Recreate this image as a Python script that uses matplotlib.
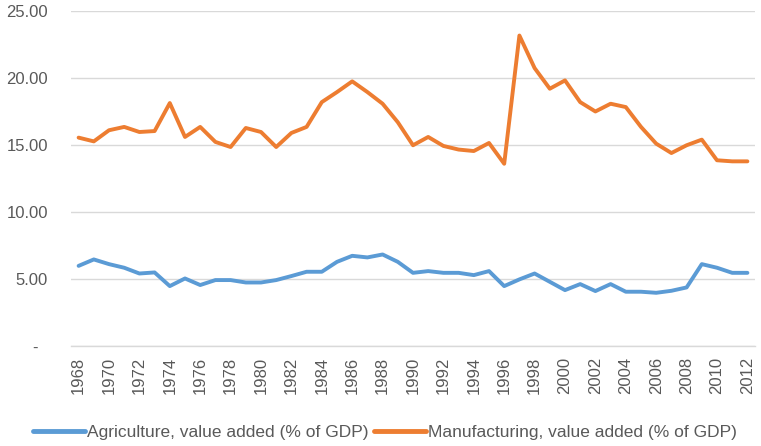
import matplotlib
matplotlib.use("Agg")
import matplotlib.pyplot as plt

plt.rcParams['font.family'] = ['Liberation Sans', 'DejaVu Sans']

years = list(range(1968, 2013))
agriculture = [5.98, 6.46, 6.11, 5.84, 5.41, 5.49, 4.47, 5.04, 4.55, 4.92,
               4.92, 4.74, 4.74, 4.92, 5.22, 5.54, 5.54, 6.28, 6.73, 6.61,
               6.83, 6.28, 5.46, 5.59, 5.46, 5.46, 5.29, 5.59, 4.47, 4.97,
               5.41, 4.79, 4.17, 4.62, 4.10, 4.62, 4.05, 4.05, 3.97, 4.12,
               4.37, 6.11, 5.84, 5.46, 5.46]
manufacturing = [15.55, 15.27, 16.10, 16.35, 15.97, 16.04, 18.13, 15.60, 16.35, 15.23,
                 14.85, 16.27, 15.97, 14.85, 15.90, 16.35, 18.20, 18.95, 19.75, 18.95,
                 18.08, 16.70, 14.98, 15.60, 14.93, 14.66, 14.55, 15.15, 13.60, 23.17,
                 20.74, 19.20, 19.82, 18.20, 17.50, 18.08, 17.83, 16.35, 15.10, 14.40,
                 14.98, 15.40, 13.86, 13.78, 13.78]
series_names = ["Agriculture, value added (% of GDP)",
                "Manufacturing, value added (% of GDP)"]
y_ticks = [0, 5, 10, 15, 20, 25]
y_tick_labels = ["-  ", "5.00", "10.00", "15.00", "20.00", "25.00"]
x_tick_years = list(range(1968, 2013, 2))

fig = plt.figure(figsize=(7.61, 4.46), dpi=100)
ax = fig.add_axes([71/761, 1 - 346/446, (755 - 71)/761, (346 - 11)/446])

ax.plot(years, agriculture, color='#5B9BD5', lw=2.8, label=series_names[0],
        solid_joinstyle='round', solid_capstyle='round')
ax.plot(years, manufacturing, color='#ED7D31', lw=2.8, label=series_names[1],
        solid_joinstyle='round', solid_capstyle='round')

ax.set_xlim(1967.5, 2012.5)
ax.set_ylim(0, 25)
ax.set_yticks(y_ticks)
ax.set_yticklabels(y_tick_labels)
ax.set_xticks(x_tick_years)
ax.set_xticklabels([str(y) for y in x_tick_years], rotation=90)
ax.tick_params(axis='y', length=0, pad=16.5, labelsize=12, labelcolor='#595959')
ax.tick_params(axis='x', length=0, pad=8, labelsize=12, labelcolor='#595959')

ax.grid(axis='y', color='#D9D9D9', lw=1)
ax.set_axisbelow(True)
for s in ['top', 'right', 'left']:
    ax.spines[s].set_visible(False)
ax.spines['bottom'].set_color('#D9D9D9')
ax.spines['bottom'].set_linewidth(1)

leg = fig.legend(loc='center', bbox_to_anchor=(385/761, 1 - 432/446), ncol=2,
                 frameon=False, fontsize=12.5, handlelength=3.0, handletextpad=0.1,
                 columnspacing=0.3, labelcolor='#595959')
for line in leg.get_lines():
    line.set_linewidth(3.5)

fig.savefig('out.png', dpi=100)
